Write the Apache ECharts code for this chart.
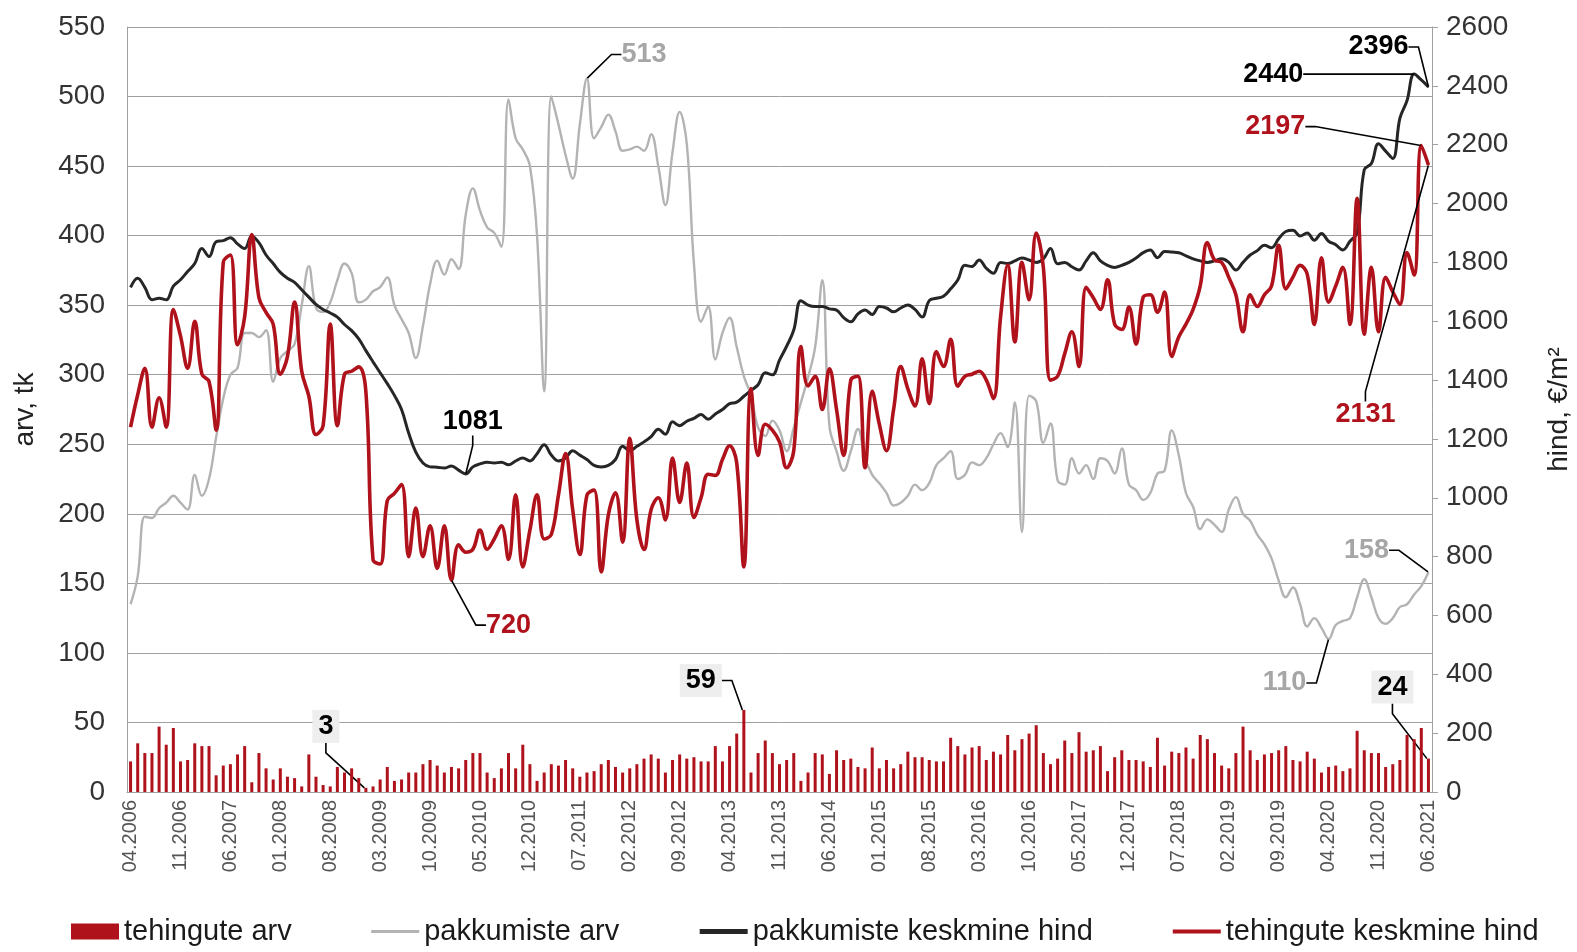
<!DOCTYPE html>
<html>
<head>
<meta charset="utf-8">
<script src="https://cdn.jsdelivr.net/npm/echarts@6/dist/echarts.min.js"></script>
<style>
  html, body { margin: 0; padding: 0; background: #fff; }
  #chart { width: 1577px; height: 952px; }
</style>
</head>
<body>
<div id="chart"></div>
<script>
// kuud 04.2006 ... 06.2021
const months = [];
for (let y = 2006, m = 4; y < 2021 || m <= 6;) {
  months.push(String(m).padStart(2, '0') + '.' + y);
  m++;
  if (m > 12) { m = 1; y++; }
}

// tehingute arv (vasak telg)
const dealCount = [
  22, 35, 28, 28, 47, 34, 46, 22, 23, 35,
  33, 33, 12, 19, 20, 27, 33, 7, 28, 17,
  9, 17, 11, 10, 4, 27, 11, 5, 4, 18,
  14, 17, 10, 3, 4, 9, 18, 8, 9, 14,
  14, 20, 23, 19, 14, 18, 17, 23, 28, 28,
  14, 10, 17, 28, 17, 34, 20, 8, 14, 20,
  19, 23, 17, 11, 14, 15, 20, 23, 18, 14,
  17, 20, 24, 27, 24, 14, 23, 27, 24, 25,
  22, 22, 33, 22, 33, 42, 59, 14, 28, 37,
  28, 20, 23, 28, 8, 14, 28, 27, 13, 30,
  23, 24, 18, 17, 32, 17, 23, 17, 20, 29,
  25, 25, 23, 22, 22, 39, 33, 27, 32, 33,
  23, 29, 27, 41, 30, 38, 42, 48, 28, 20,
  24, 37, 28, 43, 29, 30, 33, 15, 25, 30,
  23, 23, 22, 18, 39, 19, 29, 28, 32, 24,
  41, 38, 28, 19, 17, 28, 47, 30, 23, 27,
  28, 30, 33, 23, 22, 29, 24, 14, 18, 19,
  15, 17, 44, 30, 28, 28, 18, 20, 23, 41,
  38, 46, 24
];

// pakkumiste arv (vasak telg)
const offerCount = [
  135, 155, 198, 197, 204, 208, 213, 208, 203, 228,
  213, 225, 255, 283, 300, 305, 330, 330, 327, 332,
  295, 312, 317, 322, 350, 378, 348, 345, 352, 368,
  380, 373, 352, 354, 360, 363, 370, 350, 340, 330,
  312, 335, 365, 382, 372, 383, 376, 415, 434, 418,
  406, 402, 392, 498, 470, 462, 450, 400, 288, 500,
  480, 458, 441, 480, 513, 470, 478, 487, 475, 461,
  462, 464, 461, 473, 450, 422, 460, 489, 466, 380,
  338, 349, 311, 330, 341, 320, 299, 285, 262, 256,
  267, 260, 245, 262, 280, 298, 320, 368, 263, 245,
  231, 245, 261, 240, 228, 222, 215, 206, 208, 213,
  221, 217, 222, 235, 240, 245, 225, 228, 237, 235,
  240, 250, 258, 248, 280, 187, 285, 281, 251, 265,
  224, 221, 240, 229, 235, 225, 240, 238, 229, 247,
  221, 217, 210, 215, 229, 231, 260, 242, 215, 205,
  189, 196, 192, 187, 203, 212, 200, 195, 185, 178,
  168, 152, 140, 147, 135, 119, 125, 118, 110, 120,
  123, 125, 140, 153, 140, 125, 121, 125, 133, 135,
  142, 148, 158
];

// pakkumiste keskmine hind, €/m² (parem telg)
const offerPrice = [
  1715, 1746, 1715, 1673, 1678, 1673, 1719, 1741, 1769, 1796,
  1847, 1820, 1870, 1874, 1884, 1863, 1847, 1890, 1867, 1825,
  1796, 1766, 1746, 1732, 1707, 1682, 1657, 1640, 1628, 1614,
  1589, 1568, 1540, 1500, 1462, 1425, 1388, 1348, 1300, 1220,
  1155, 1118, 1105, 1104, 1101, 1108, 1094, 1081, 1105, 1115,
  1121, 1118, 1121, 1112, 1125, 1135, 1125, 1150, 1180, 1145,
  1125, 1135, 1160, 1145, 1130, 1110, 1105, 1110, 1130, 1175,
  1160, 1175, 1190, 1208, 1233, 1216, 1258, 1245, 1260, 1270,
  1283, 1267, 1285, 1300, 1320, 1325, 1345, 1365, 1384, 1425,
  1418, 1468, 1515, 1570, 1670, 1655, 1650, 1650, 1642, 1638,
  1612, 1598, 1625, 1638, 1623, 1650, 1645, 1632, 1645, 1655,
  1640, 1614, 1670, 1678, 1685, 1710, 1740, 1790, 1786, 1808,
  1780, 1763, 1800, 1796, 1805, 1815, 1808, 1800, 1812, 1847,
  1795, 1800, 1785, 1774, 1805, 1833, 1805, 1790, 1783, 1790,
  1800, 1815, 1833, 1842, 1816, 1837, 1835, 1833, 1822, 1812,
  1805, 1800, 1805, 1812, 1800, 1774, 1800, 1825, 1840, 1858,
  1850, 1880, 1905, 1909, 1890, 1900, 1875, 1898, 1872, 1860,
  1842, 1872, 1900, 2115, 2136, 2203, 2178, 2153, 2290, 2350,
  2440, 2420, 2396
];

// tehingute keskmine hind, €/m² (parem telg)
const dealPrice = [
  1240, 1350, 1440, 1240, 1340, 1240, 1640, 1550, 1440, 1600,
  1420, 1395, 1230, 1800, 1825, 1520, 1615, 1895, 1680, 1630,
  1590, 1420, 1480, 1665, 1430, 1345, 1215, 1245, 1590, 1245,
  1420, 1430, 1445, 1360, 790, 775, 990, 1015, 1045, 800,
  965, 800, 905, 760, 905, 720, 840, 815, 825, 890,
  825, 860, 905, 790, 1010, 765, 890, 1010, 860, 875,
  1009, 1150, 959, 807, 1009, 1026, 748, 942, 1017, 849,
  1202, 925, 824, 960, 1000, 925, 1135, 984, 1118, 933,
  1000, 1080, 1076, 1130, 1177, 1118, 765, 1371, 1144, 1250,
  1230, 1190, 1102, 1160, 1514, 1380, 1413, 1300, 1438, 1300,
  1144, 1400, 1413, 1102, 1362, 1250, 1160, 1300, 1446, 1370,
  1312, 1472, 1320, 1497, 1446, 1539, 1379, 1413, 1420, 1430,
  1400, 1337, 1614, 1791, 1530, 1800, 1673, 1900, 1783, 1400,
  1413, 1490, 1564, 1446, 1715, 1680, 1640, 1741, 1590, 1572,
  1648, 1522, 1682, 1690, 1631, 1699, 1480, 1547, 1590, 1640,
  1720, 1867, 1808, 1800, 1749, 1690, 1564, 1690, 1650, 1690,
  1720, 1858, 1710, 1750, 1790, 1760, 1589, 1816, 1665, 1720,
  1783, 1589, 2018, 1556, 1783, 1564, 1749, 1700, 1657, 1833,
  1757, 2197, 2131
];

// väljatoodud väärtused: [indeks, dx, dy]
const dealCountNotes = [[33, -40, -40], [86, -43, -8], [182, -36, -50]];
const offerCountNotes = [[64, 57, -5], [168, -44, 63], [182, -62, -3]];
const offerPriceNotes = [[47, 7, -33], [180, -141, 19], [182, -50, -21]];
const dealPriceNotes = [[45, 57, 64], [181, -146, 0], [182, -63, 269]];

const FONT = "'Liberation Sans', Arial, sans-serif";
const RED = '#b0121c';
const GRAY = '#b3b3b3';
const BLACK = '#262626';

function noteItems(values, notes, textColor, isBar) {
  return values.map((v, i) => {
    if (!notes.some(n => n[0] === i)) return v;
    const item = {
      value: v,
      label: {
        show: true,
        position: 'top',
        color: textColor,
        fontFamily: FONT,
        fontWeight: 'bold',
        fontSize: 27
      },
      labelLine: { show: true, length2: 10, lineStyle: { color: '#000', width: 1.6 } }
    };
    if (isBar) {
      item.label.backgroundColor = '#eeeeee';
      item.label.padding = [3, 6];
    } else {
      item.symbol = 'circle';
      item.symbolSize = 1;
    }
    return item;
  });
}

function layoutFor(notes) {
  return function (p) {
    const n = notes.find(a => a[0] === p.dataIndex);
    return n ? { dx: n[1], dy: n[2] } : {};
  };
}

const chart = echarts.init(document.getElementById('chart'));
chart.setOption({
  animation: false,
  backgroundColor: '#fff',
  textStyle: { fontFamily: FONT },
  grid: { left: 127, right: 145, top: 27, bottom: 160, outerBoundsMode: 'none' },
  legend: {
    bottom: 1,
    left: 66,
    itemGap: 78,
    itemWidth: 48,
    itemHeight: 16,
    textStyle: { fontSize: 29, color: '#1a1a1a', fontFamily: FONT },
    data: [
      { name: 'tehingute arv', icon: 'rect' },
      { name: 'pakkumiste arv', itemStyle: { opacity: 0 }, lineStyle: { width: 3 } },
      { name: 'pakkumiste keskmine hind', itemStyle: { opacity: 0 }, lineStyle: { width: 5 } },
      { name: 'tehingute keskmine hind', itemStyle: { opacity: 0 }, lineStyle: { width: 4 } }
    ]
  },
  xAxis: {
    type: 'category',
    data: months,
    boundaryGap: true,
    axisLine: { lineStyle: { color: '#a0a0a0' } },
    axisTick: { show: false },
    axisLabel: {
      rotate: 90,
      interval: 6,
      fontSize: 20,
      color: '#555',
      margin: 8
    }
  },
  yAxis: [
    {
      type: 'value',
      min: 0,
      max: 550,
      interval: 50,
      name: 'arv, tk',
      nameLocation: 'middle',
      nameRotate: 90,
      nameGap: 88,
      nameTextStyle: { fontSize: 28, color: '#222' },
      axisLine: { show: true, lineStyle: { color: '#a0a0a0' } },
      axisTick: { show: false },
      axisLabel: { fontSize: 28, color: '#333', margin: 22 },
      splitLine: { lineStyle: { color: '#a0a0a0', width: 1 } }
    },
    {
      type: 'value',
      min: 0,
      max: 2600,
      interval: 200,
      name: 'hind, €/m²',
      nameLocation: 'middle',
      nameRotate: 90,
      nameGap: 113,
      nameTextStyle: { fontSize: 28, color: '#222' },
      axisLine: { show: true, lineStyle: { color: '#a0a0a0' } },
      axisTick: { show: true, length: 6, lineStyle: { color: '#a0a0a0' } },
      axisLabel: { fontSize: 28, color: '#333', margin: 14, formatter: v => String(v) },
      splitLine: { show: false }
    }
  ],
  series: [
    {
      name: 'tehingute arv',
      type: 'bar',
      yAxisIndex: 0,
      barWidth: 3,
      itemStyle: { color: RED },
      data: noteItems(dealCount, dealCountNotes, '#000', true),
      labelLayout: layoutFor(dealCountNotes)
    },
    {
      name: 'pakkumiste arv',
      type: 'line',
      yAxisIndex: 0,
      smooth: 0.4,
      symbol: 'none',
      showSymbol: true,
      showAllSymbol: true,
      itemStyle: { color: GRAY },
      lineStyle: { color: GRAY, width: 2.4 },
      data: noteItems(offerCount, offerCountNotes, '#a6a6a6', false),
      labelLayout: layoutFor(offerCountNotes)
    },
    {
      name: 'pakkumiste keskmine hind',
      type: 'line',
      yAxisIndex: 1,
      smooth: 0.4,
      symbol: 'none',
      showSymbol: true,
      showAllSymbol: true,
      itemStyle: { color: BLACK },
      lineStyle: { color: BLACK, width: 3 },
      data: noteItems(offerPrice, offerPriceNotes, '#000', false),
      labelLayout: layoutFor(offerPriceNotes)
    },
    {
      name: 'tehingute keskmine hind',
      type: 'line',
      yAxisIndex: 1,
      smooth: 0.4,
      symbol: 'none',
      showSymbol: true,
      showAllSymbol: true,
      itemStyle: { color: RED },
      lineStyle: { color: RED, width: 3.6 },
      data: noteItems(dealPrice, dealPriceNotes, RED, false),
      labelLayout: layoutFor(dealPriceNotes)
    }
  ]
});
</script>
</body>
</html>
